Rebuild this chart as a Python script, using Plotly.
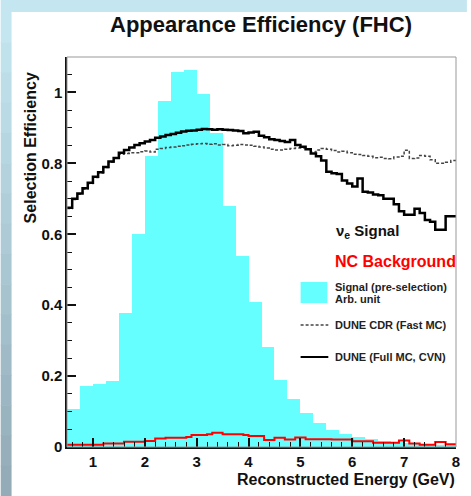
import numpy as np
import plotly.graph_objects as go

# ---------------- data ----------------
# cyan signal histogram (arb. units), 0.25 GeV bins from 0.5 to 8.0
signal_lo = 0.5
signal_width = 0.25
signal_hist = [0.106, 0.172, 0.177, 0.187, 0.377, 0.600, 0.820, 0.977, 1.057, 1.062,
               0.996, 0.885, 0.679, 0.540, 0.410, 0.283, 0.189, 0.134, 0.097, 0.069,
               0.048, 0.036, 0.028, 0.022, 0.017, 0.014, 0.011, 0.009, 0.007, 0.006]

# efficiency curves, 0.1 GeV bins from 0.5 to 8.0
eff_lo = 0.5
eff_width = 0.1
full_mc_cvn = [0.675, 0.700, 0.715, 0.730, 0.745, 0.762, 0.775, 0.790, 0.805, 0.815,
               0.830, 0.838, 0.845, 0.852, 0.857, 0.862, 0.866, 0.872, 0.876, 0.880,
               0.883, 0.886, 0.890, 0.892, 0.893, 0.895, 0.897, 0.896, 0.895, 0.896,
               0.895, 0.894, 0.893, 0.891, 0.885, 0.887, 0.889, 0.878, 0.874, 0.868,
               0.866, 0.863, 0.860, 0.866, 0.852, 0.847, 0.840, 0.828, 0.820, 0.808,
               0.776, 0.772, 0.770, 0.752, 0.743, 0.735, 0.757, 0.720, 0.718, 0.712,
               0.710, 0.700, 0.700, 0.685, 0.665, 0.655, 0.655, 0.672, 0.660, 0.640,
               0.635, 0.613, 0.613, 0.651, 0.651]
cdr_fast_mc = [0.673, 0.698, 0.713, 0.728, 0.743, 0.760, 0.773, 0.788, 0.803, 0.815,
               0.826, 0.828, 0.830, 0.830, 0.833, 0.835, 0.832, 0.840, 0.842, 0.845,
               0.846, 0.848, 0.850, 0.852, 0.854, 0.855, 0.856, 0.854, 0.855, 0.852,
               0.853, 0.850, 0.851, 0.853, 0.852, 0.851, 0.848, 0.846, 0.843, 0.840,
               0.838, 0.838, 0.840, 0.842, 0.843, 0.843, 0.840, 0.832, 0.838, 0.842,
               0.840, 0.836, 0.832, 0.834, 0.830, 0.826, 0.825, 0.822, 0.820, 0.816,
               0.817, 0.814, 0.813, 0.818, 0.820, 0.837, 0.814, 0.815, 0.822, 0.820,
               0.810, 0.800, 0.800, 0.803, 0.808]
nc_background = [0.006, 0.006, 0.006, 0.006, 0.006, 0.006, 0.006, 0.010, 0.010, 0.010,
                 0.010, 0.015, 0.015, 0.015, 0.015, 0.017, 0.017, 0.024, 0.024, 0.026,
                 0.026, 0.026, 0.026, 0.028, 0.034, 0.034, 0.034, 0.036, 0.040, 0.040,
                 0.036, 0.036, 0.036, 0.036, 0.034, 0.031, 0.031, 0.031, 0.020, 0.020,
                 0.026, 0.026, 0.021, 0.021, 0.027, 0.027, 0.022, 0.022, 0.022, 0.022,
                 0.022, 0.021, 0.021, 0.021, 0.021, 0.016, 0.016, 0.016, 0.016, 0.012,
                 0.012, 0.012, 0.012, 0.012, 0.018, 0.018, 0.010, 0.010, 0.006, 0.006,
                 0.006, 0.014, 0.014, 0.008, 0.008]

x_tick_vals = [1, 2, 3, 4, 5, 6, 7, 8]
y_tick_vals = [0, 0.2, 0.4, 0.6, 0.8, 1.0]
y_tick_text = ["0", "0.2", "0.4", "0.6", "0.8", "1"]

title_text = "Appearance Efficiency (FHC)"
x_title = "Reconstructed Energy (GeV)"
y_title = "Selection Efficiency"

# ---------------- figure ----------------
W, H = 471, 496
ML, MR, MT, MB = 67, 11, 57, 49
PW, PH = W - ML - MR, H - MT - MB


def px(xpix):
    return (xpix - ML) / PW


def py(ypix):
    return (MT + PH - ypix) / PH


FONT = "Liberation Sans, Arial, Helvetica, sans-serif"


def step_xy(lo, width, vals):
    edges = lo + width * np.arange(len(vals) + 1)
    return edges, list(vals) + [vals[-1]]


fig = go.Figure()

sig_centers = signal_lo + signal_width * (np.arange(len(signal_hist)) + 0.5)
fig.add_trace(go.Bar(x=sig_centers, y=signal_hist, width=signal_width,
                     marker=dict(color="#66ffff", line=dict(width=0)),
                     showlegend=False, hoverinfo="skip"))

ex, ey = step_xy(eff_lo, eff_width, nc_background)
fig.add_trace(go.Scatter(x=ex, y=ey, mode="lines", line=dict(shape="hv", color="#ff0000", width=2),
                         showlegend=False))
ex, ey = step_xy(eff_lo, eff_width, cdr_fast_mc)
fig.add_trace(go.Scatter(x=ex, y=ey, mode="lines",
                         line=dict(shape="hv", color="#444444", width=1.5, dash="3px,2px"),
                         showlegend=False))
ex, ey = step_xy(eff_lo, eff_width, full_mc_cvn)
fig.add_trace(go.Scatter(x=ex, y=ey, mode="lines", line=dict(shape="hv", color="#000000", width=2.5),
                         showlegend=False))

shapes = []
# page background: light-blue strips at top and left
shapes.append(dict(type="rect", xref="paper", yref="paper", x0=px(0), x1=px(W), y0=py(12), y1=py(0),
                   fillcolor="#c4e6f1", line=dict(width=0), layer="below"))
n_bands = 16
c_top = np.array([0xc4, 0xe6, 0xf1])
c_bot = np.array([0x93, 0xac, 0xb8])
for i in range(n_bands):
    t = i / (n_bands - 1)
    c = (c_top * (1 - t) + c_bot * t).astype(int)
    y0p = 12 + (H - 12) * i / n_bands
    y1p = 12 + (H - 12) * (i + 1) / n_bands
    shapes.append(dict(type="rect", xref="paper", yref="paper", x0=px(0), x1=px(11),
                       y0=py(y1p + 0.5), y1=py(y0p), fillcolor="rgb(%d,%d,%d)" % tuple(c),
                       line=dict(width=0), layer="below"))
# gray frame top/right
shapes.append(dict(type="rect", xref="paper", yref="paper", x0=0, x1=1, y0=0, y1=1,
                   line=dict(color="#999999", width=1), layer="above"))
# legend keys
shapes.append(dict(type="rect", xref="paper", yref="paper", x0=px(303), x1=px(330),
                   y0=py(303), y1=py(282), fillcolor="#66ffff", line=dict(width=0)))
shapes.append(dict(type="line", xref="paper", yref="paper", x0=px(303), x1=px(331),
                   y0=py(325), y1=py(325), line=dict(color="#444444", width=1.5, dash="3px,2px")))
shapes.append(dict(type="line", xref="paper", yref="paper", x0=px(303), x1=px(331),
                   y0=py(357), y1=py(357), line=dict(color="#000000", width=2)))

annotations = [
    dict(text=title_text, x=px(263), y=py(24), xref="paper", yref="paper", showarrow=False,
         xanchor="center", yanchor="middle", font=dict(family=FONT, size=22, color="#111", weight="bold")),
    dict(text=y_title, x=px(30), y=py(148), xref="paper", yref="paper", showarrow=False, textangle=-90,
         xanchor="center", yanchor="middle", font=dict(family=FONT, size=16, color="#111", weight="bold")),
    dict(text=x_title, x=px(461), y=py(480), xref="paper", yref="paper", showarrow=False,
         xanchor="right", yanchor="middle", font=dict(family=FONT, size=16, color="#111", weight="bold")),
    dict(text="ν<sub>e</sub> Signal", x=px(337), y=py(232), xref="paper", yref="paper", showarrow=False,
         xanchor="left", yanchor="middle", font=dict(family=FONT, size=15, color="#111", weight="bold")),
    dict(text="NC Background", x=px(336), y=py(261), xref="paper", yref="paper", showarrow=False,
         xanchor="left", yanchor="middle", font=dict(family=FONT, size=16, color="#ff0000", weight="bold")),
    dict(text="Signal (pre-selection)", x=px(336), y=py(287), xref="paper", yref="paper", showarrow=False,
         xanchor="left", yanchor="middle", font=dict(family=FONT, size=11, color="#222", weight="bold")),
    dict(text="Arb. unit", x=px(336), y=py(299), xref="paper", yref="paper", showarrow=False,
         xanchor="left", yanchor="middle", font=dict(family=FONT, size=11, color="#222", weight="bold")),
    dict(text="DUNE CDR (Fast MC)", x=px(336), y=py(325), xref="paper", yref="paper", showarrow=False,
         xanchor="left", yanchor="middle", font=dict(family=FONT, size=11, color="#222", weight="bold")),
    dict(text="DUNE (Full MC, CVN)", x=px(336), y=py(357), xref="paper", yref="paper", showarrow=False,
         xanchor="left", yanchor="middle", font=dict(family=FONT, size=11, color="#222", weight="bold")),
]

fig.update_layout(
    width=W, height=H,
    margin=dict(l=ML, r=MR, t=MT, b=MB, pad=0),
    paper_bgcolor="white", plot_bgcolor="white",
    bargap=0, showlegend=False,
    shapes=shapes, annotations=annotations,
    xaxis=dict(range=[0.5, 8.0], tickmode="array", tickvals=x_tick_vals,
               ticks="inside", ticklen=9, tickwidth=1.5, tickcolor="#111",
               minor=dict(ticks="inside", dtick=0.2, tick0=0, ticklen=5, tickwidth=1.2, tickcolor="#111"),
               showline=True, linecolor="#111", linewidth=1.5, showgrid=False, zeroline=False,
               tickfont=dict(family=FONT, size=15, color="#111", weight="bold")),
    yaxis=dict(range=[0, 1.1], tickmode="array", tickvals=y_tick_vals, ticktext=y_tick_text,
               ticks="inside", ticklen=9, tickwidth=1.5, tickcolor="#111",
               minor=dict(ticks="inside", dtick=0.05, tick0=0, ticklen=5, tickwidth=1.2, tickcolor="#111"),
               showline=True, linecolor="#111", linewidth=1.5, showgrid=False, zeroline=False,
               tickfont=dict(family=FONT, size=15, color="#111", weight="bold")),
)

fig.write_html("out.html")
